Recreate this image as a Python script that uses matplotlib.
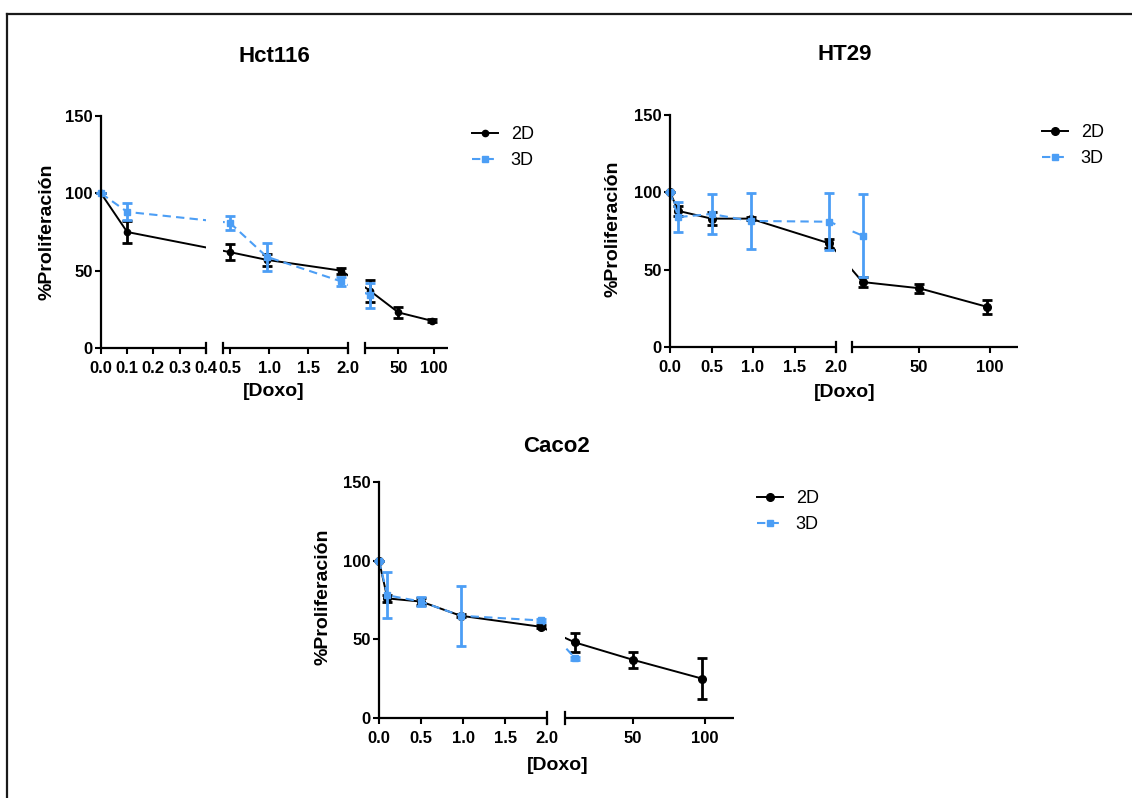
import numpy as np
import matplotlib
matplotlib.use('Agg')
import matplotlib.pyplot as plt
from matplotlib.lines import Line2D

plt.rcParams['font.family'] = ['Liberation Sans', 'DejaVu Sans']
plt.rcParams['font.weight'] = 'bold'

# doses (x) and % proliferation, mean +/- error
doses_2d = [0, 0.1, 0.5, 0.97, 1.92, 10, 50, 98]
doses_3d = [0, 0.1, 0.5, 0.97, 1.92, 10]

hct116_2d = [100, 75, 62, 57, 50, 37, 23, 17.5]
hct116_2d_err = [0, 7, 5, 4, 2, 7, 3.5, 1]
hct116_3d = [100, 88, 81, 59, 43, 34]
hct116_3d_err = [0, 5.5, 4.5, 9, 3, 8]

ht29_2d = [100, 88, 83, 83, 67, 42, 38, 26]
ht29_2d_err = [0, 3, 4, 1, 3, 3.5, 3, 4.5]
ht29_3d = [100, 84, 86, 81.5, 81, 72]
ht29_3d_err = [0, 9.5, 13, 18, 18.5, 27]

caco2_2d = [100, 76, 74, 65, 58, 48, 37, 25]
caco2_2d_err = [0, 2, 2, 1, 1, 6, 5, 13]
caco2_3d = [100, 78, 74, 65, 62, 38]
caco2_3d_err = [0, 14.5, 3, 19, 1, 1]

ticks_a = [0, 0.1, 0.2, 0.3, 0.4, 0.5, 1.0, 1.5, 2.0, 50, 100]
labels_a = ['0.0', '0.1', '0.2', '0.3', '0.4', '0.5', '1.0', '1.5', '2.0', '50', '100']
ticks_b = [0, 0.5, 1.0, 1.5, 2.0, 50, 100]
labels_b = ['0.0', '0.5', '1.0', '1.5', '2.0', '50', '100']

BLUE = '#4c9ef5'
W, H = 1132, 798


def fx(x):
    return x / W


def fy(y):
    return 1 - y / H


fig = plt.figure(figsize=(W / 100, H / 100), dpi=100)


def panel(box, segs, ticks, ticklabels, y2, e2, y3, e3, title, title_xy,
          ylab_xy, xlab_xy, leg_xy, ms2):
    left, top, right, bottom = box
    ax = fig.add_axes([fx(left), fy(bottom), (right - left) / W, (bottom - top) / H])

    # broken x axis: piecewise linear scale, one piece per segment
    dp = np.array([v for s in segs for v in s[:2]], float)
    up = np.array([v for s in segs for v in s[2:]], float)
    ax.set_xscale('function', functions=(lambda x: np.interp(x, dp, up),
                                         lambda u: np.interp(u, up, dp)))
    ax.set_xlim(segs[0][0], segs[-1][1])
    ax.set_ylim(0, 150)

    eb2 = ax.errorbar(doses_2d, y2, yerr=e2, fmt='-o', color='k', lw=1.4, ms=ms2,
                      elinewidth=2, capsize=3.5, capthick=2, zorder=2)
    eb3 = ax.errorbar(doses_3d, y3, yerr=e3, fmt='s', ls=(0, (4, 2.5)), color=BLUE,
                      lw=1.5, ms=5, elinewidth=2, capsize=3.5, capthick=2, zorder=2.1)
    for eb in (eb2, eb3):
        for art in eb.get_children():
            art.set_clip_on(False)

    # hide the lines inside the gaps, draw axis pieces and break marks
    for s0, s1 in zip(segs[:-1], segs[1:]):
        ax.axvspan(s0[1], s1[0], color='white', lw=0, zorder=3)
    for i, s in enumerate(segs):
        ax.plot([s[0], s[1]], [0, 0], color='k', lw=1.6, zorder=4,
                clip_on=False, solid_capstyle='butt')
        if i > 0:
            ax.plot([s[0], s[0]], [-3.5, 3.5], color='k', lw=1.6, zorder=4, clip_on=False)
        if i < len(segs) - 1:
            ax.plot([s[1], s[1]], [-3.5, 3.5], color='k', lw=1.6, zorder=4, clip_on=False)

    for side in ('top', 'right', 'bottom'):
        ax.spines[side].set_visible(False)
    ax.spines['left'].set_linewidth(1.6)
    ax.set_yticks([0, 50, 100, 150])
    ax.set_xticks(ticks)
    ax.set_xticklabels(ticklabels)
    ax.tick_params(direction='out', length=4.5, width=1.5, labelsize=12, pad=1.5)
    ax.tick_params(axis='x', pad=5)

    h2 = Line2D([], [], color='k', lw=1.4, marker='o', ms=ms2)
    h3 = Line2D([], [], color=BLUE, lw=1.5, ls=(0, (4, 2.5)), marker='s', ms=5)
    ax.legend([h2, h3], ['2D', '3D'], loc='upper left',
              bbox_to_anchor=(fx(leg_xy[0]), fy(leg_xy[1])), bbox_transform=fig.transFigure,
              frameon=False, prop={'weight': 'normal', 'size': 13}, handlelength=1.45,
              handletextpad=0.7, borderpad=0, borderaxespad=0, labelspacing=0.5)

    fig.text(fx(title_xy[0]), fy(title_xy[1]), title, ha='center', va='center', fontsize=16)
    fig.text(fx(ylab_xy[0]), fy(ylab_xy[1]), '%Proliferación', rotation=90,
             ha='center', va='center', fontsize=14)
    fig.text(fx(xlab_xy[0]), fy(xlab_xy[1]), '[Doxo]', ha='center', va='center', fontsize=14)
    return ax


panel((101, 116, 448, 348),
      [(0, 0.4, 101, 205.7), (0.41, 2.0, 222.7, 347.7), (3, 120, 365, 448)],
      ticks_a, labels_a, hct116_2d, hct116_2d_err, hct116_3d, hct116_3d_err,
      'Hct116', (274, 57), (47, 232), (274, 392), (472, 126), 4.5)

panel((670, 115, 1018, 347),
      [(0, 2.0, 670, 836), (2.5, 120, 852, 1018)],
      ticks_b, labels_b, ht29_2d, ht29_2d_err, ht29_3d, ht29_3d_err,
      'HT29', (845, 55), (613, 229), (845, 393), (1042, 124), 5.5)

panel((379, 482, 734, 718),
      [(0, 2.0, 379, 547.3), (3, 120, 565, 734)],
      ticks_b, labels_b, caco2_2d, caco2_2d_err, caco2_3d, caco2_3d_err,
      'Caco2', (557, 446), (323, 597), (558, 765), (757, 490), 5.5)

# outer frame (left and top edges)
fig.add_artist(Line2D([fx(6.5), fx(6.5)], [fy(13.5), 0], transform=fig.transFigure,
                      color='#1a1a1a', lw=1.6))
fig.add_artist(Line2D([fx(6.5), 1], [fy(13.5), fy(13.5)], transform=fig.transFigure,
                      color='#1a1a1a', lw=1.6))

fig.savefig('out.png', dpi=100)
